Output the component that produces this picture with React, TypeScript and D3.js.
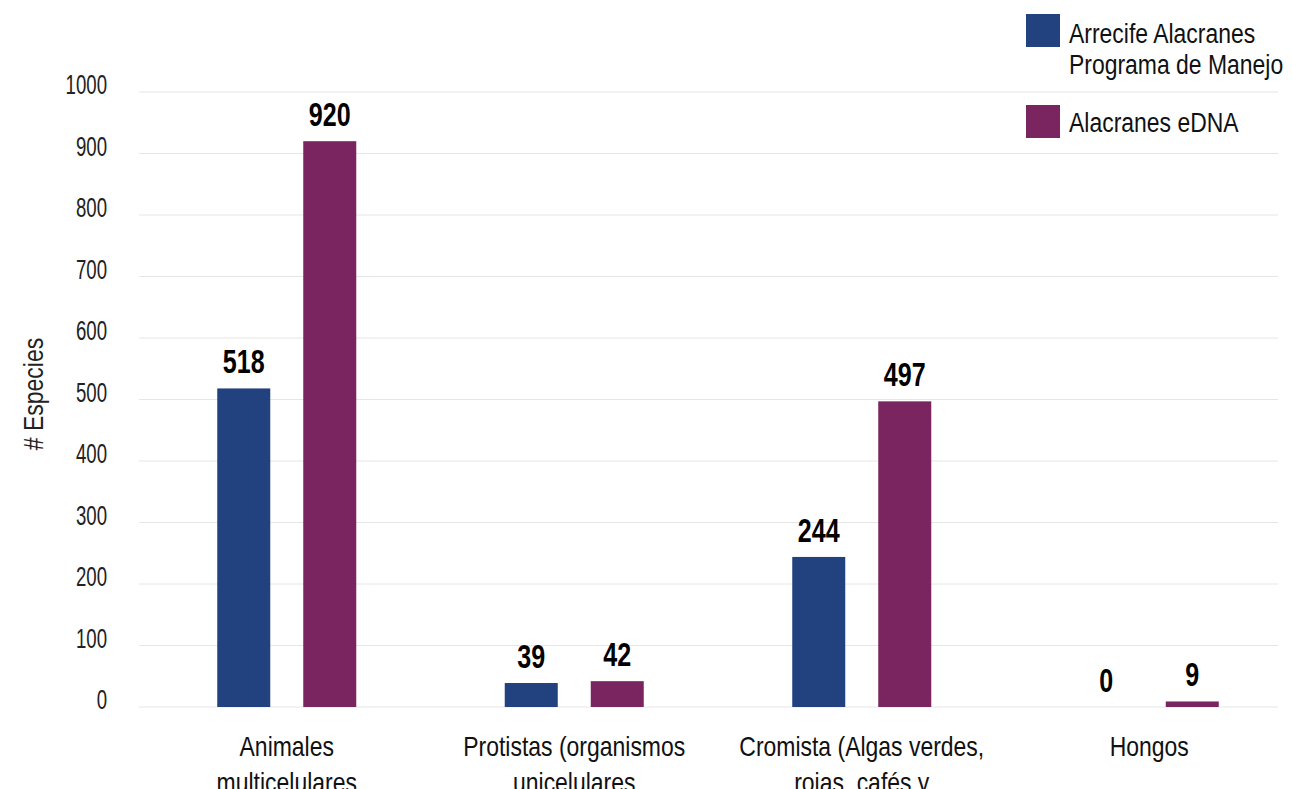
import React from 'react';
import * as d3 from 'd3';

// Species counts per kingdom, for the two inventories
const categories = [
  'Animales multicelulares',
  'Protistas (organismos unicelulares',
  'Cromista (Algas verdes, rojas, cafés y diatomeas)',
  'Hongos',
];
const categoryLines = [
  ['Animales', 'multicelulares'],
  ['Protistas (organismos', 'unicelulares'],
  ['Cromista (Algas verdes,', 'rojas, cafés y', 'diatomeas)'],
  ['Hongos'],
];
const seriesNames = ['Arrecife Alacranes Programa de Manejo', 'Alacranes eDNA'];
const legendLines = [['Arrecife Alacranes', 'Programa de Manejo'], ['Alacranes eDNA']];
const programaValues = [518, 39, 244, 0];
const ednaValues = [920, 42, 497, 9];
const yTicks = [0, 100, 200, 300, 400, 500, 600, 700, 800, 900, 1000];
const seriesColors = ['#22417F', '#7A2460'];
const yTitle = '# Especies';

const FONT = "'Liberation Sans', Arial, sans-serif";

// Text drawn horizontally condensed around its anchor point
function CText({
  x,
  y,
  sx,
  rotate = 0,
  anchor = 'start',
  size,
  weight = 'normal',
  fill = '#111',
  children,
}: {
  x: number;
  y: number;
  sx: number;
  rotate?: number;
  anchor?: 'start' | 'middle' | 'end';
  size: number;
  weight?: string;
  fill?: string;
  children: React.ReactNode;
}) {
  return (
    <text
      transform={`translate(${x},${y}) rotate(${rotate}) scale(${sx},1)`}
      textAnchor={anchor}
      fontSize={size}
      fontWeight={weight}
      fill={fill}
    >
      {children}
    </text>
  );
}

export default function App() {
  const width = 1293;
  const height = 789;
  const gridLeft = 139;
  const gridRight = 1278;

  const y = d3.scaleLinear().domain([0, 1000]).range([707, 92]);
  const x0 = d3
    .scaleBand<string>()
    .domain(categories)
    .range([143, 1293])
    .paddingInner(0.5165)
    .paddingOuter(0.5165 / 2);
  const x1 = d3
    .scaleBand<string>()
    .domain(seriesNames)
    .range([0, x0.bandwidth()])
    .paddingInner(0.3837)
    .paddingOuter(0);

  const seriesValues = [programaValues, ednaValues];

  return (
    <svg
      width={width}
      height={height}
      style={{ position: 'fixed', left: 0, top: 0, background: '#fff' }}
      fontFamily={FONT}
    >
      {/* horizontal gridlines and y tick labels */}
      <g>
        {yTicks.map((t) => (
          <g key={t}>
            <line
              x1={gridLeft}
              x2={gridRight}
              y1={y(t)}
              y2={y(t)}
              stroke="#e6e6e6"
              strokeWidth={1}
            />
            <CText x={107} y={y(t) + 2} sx={0.69} anchor="end" size={27} fill="#222">
              {t}
            </CText>
          </g>
        ))}
      </g>

      {/* y axis title */}
      <CText x={43} y={394} sx={0.82} rotate={-90} anchor="middle" size={28} fill="#222">
        {yTitle}
      </CText>

      {/* bars with value labels */}
      {categories.map((c, ci) => (
        <g key={c} transform={`translate(${x0(c)}, 0)`}>
          {seriesNames.map((s, si) => {
            const v = seriesValues[si][ci];
            const bx = x1(s) as number;
            const bw = x1.bandwidth();
            return (
              <g key={s}>
                {v > 0 && (
                  <rect
                    x={bx}
                    y={y(v)}
                    width={bw}
                    height={y(0) - y(v)}
                    fill={seriesColors[si]}
                  />
                )}
                <CText
                  x={bx + bw / 2}
                  y={y(v) - 15}
                  sx={0.76}
                  anchor="middle"
                  size={33}
                  weight="bold"
                  fill="#000"
                >
                  {v}
                </CText>
              </g>
            );
          })}
        </g>
      ))}

      {/* category labels, wrapped; lower lines run past the bottom edge */}
      {categories.map((c, ci) => (
        <CText
          key={c}
          x={(x0(c) as number) + x0.bandwidth() / 2}
          y={756}
          sx={0.82}
          anchor="middle"
          size={28}
          fill="#111"
        >
          {categoryLines[ci].map((line, li) => (
            <tspan key={li} x={0} dy={li === 0 ? 0 : 36}>
              {line}
            </tspan>
          ))}
        </CText>
      ))}

      {/* legend */}
      <g>
        {seriesNames.map((s, si) => {
          const top = si === 0 ? 14 : 105;
          const baseline = si === 0 ? 43 : 132;
          return (
            <g key={s}>
              <rect x={1026} y={top} width={34} height={33} fill={seriesColors[si]} />
              <CText x={1069} y={baseline} sx={0.85} size={27} fill="#111">
                {legendLines[si].map((line, li) => (
                  <tspan key={li} x={0} dy={li === 0 ? 0 : 31}>
                    {line}
                  </tspan>
                ))}
              </CText>
            </g>
          );
        })}
      </g>
    </svg>
  );
}
